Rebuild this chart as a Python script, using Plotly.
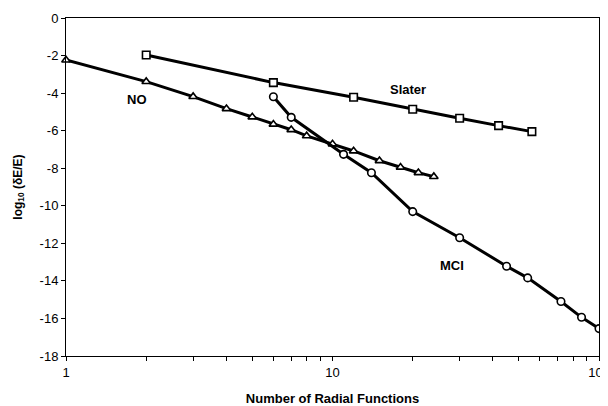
import math
import plotly.graph_objects as go

# Data (x = number of radial functions, y = log10(dE/E))
slater_x = [2, 6, 12, 20, 30, 42, 56]
slater_y = [-1.97, -3.44, -4.22, -4.86, -5.34, -5.73, -6.05]

no_x = [1, 2, 3, 4, 5, 6, 7, 8, 10, 12, 15, 18, 21, 24]
no_y = [-2.24, -3.39, -4.19, -4.83, -5.27, -5.66, -5.95, -6.28, -6.71, -7.08, -7.60, -7.95, -8.24, -8.45]

mci_x = [6, 7, 11, 14, 20, 30, 45, 54, 72, 86, 100]
mci_y = [-4.19, -5.29, -7.26, -8.24, -10.31, -11.70, -13.22, -13.84, -15.10, -15.94, -16.54]

x_major = [1, 10, 100]
x_major_text = ["1", "10", "100"]
x_minor = [2, 3, 4, 5, 6, 7, 8, 9, 20, 30, 40, 50, 60, 70, 80, 90]
y_ticks = [0, -2, -4, -6, -8, -10, -12, -14, -16, -18]
y_tick_text = ["0", "-2", "-4", "-6", "-8", "-10", "-12", "-14", "-16", "-18"]

labels = ["NO", "Slater", "MCI"]
label_x = [1.84, 19.2, 28.2]
label_y = [-4.36, -3.83, -13.17]

FONT = "Liberation Sans, Arial, sans-serif"

fig = go.Figure()

def add_series(x, y, symbol):
    fig.add_trace(go.Scatter(
        x=x, y=y, mode="lines+markers",
        line=dict(color="black", width=3),
        marker=dict(symbol=symbol, size=7.5, color="white",
                    line=dict(color="black", width=1.6)),
        showlegend=False, cliponaxis=False,
    ))

add_series(slater_x, slater_y, "square")
add_series(no_x, no_y, "triangle-up")
add_series(mci_x, mci_y, "circle")

for t, lx, ly in zip(labels, label_x, label_y):
    fig.add_annotation(x=math.log10(lx), y=ly, xref="x", yref="y", text="<b>%s</b>" % t,
                       showarrow=False, font=dict(family=FONT, size=13, color="black"))

# page body has an 8px default margin, so the figure is offset by 8px
fig.update_layout(
    width=608, height=398,
    margin=dict(l=58, r=17, t=10, b=50, autoexpand=False),
    paper_bgcolor="white", plot_bgcolor="white",
    font=dict(family=FONT, size=13, color="black"),
)

fig.update_xaxes(
    type="log", range=[0, 2], automargin=False,
    tickvals=x_major, ticktext=x_major_text,
    ticks="outside", ticklen=4, tickcolor="black", tickwidth=1,
    ticklabeloverflow="allow",
    minor=dict(tickvals=x_minor, ticks="outside", ticklen=4, tickcolor="black", tickwidth=1, showgrid=False),
    showline=True, linecolor="black", linewidth=1, mirror=True,
    showgrid=False, zeroline=False,
    tickfont=dict(family=FONT, size=13),
    title=dict(text="<b>Number of Radial Functions</b>", font=dict(family=FONT, size=13), standoff=18),
)

fig.update_yaxes(
    range=[-18, 0], automargin=False,
    tickvals=y_ticks, ticktext=y_tick_text,
    ticks="outside", ticklen=4, tickcolor="black", tickwidth=1,
    showline=True, linecolor="black", linewidth=1, mirror=True,
    showgrid=False, zeroline=False,
    tickfont=dict(family=FONT, size=13),
    title=dict(text="<b>log<sub>10</sub> (δE/E)</b>", font=dict(family=FONT, size=12), standoff=14),
)

fig.write_html("out.html")
